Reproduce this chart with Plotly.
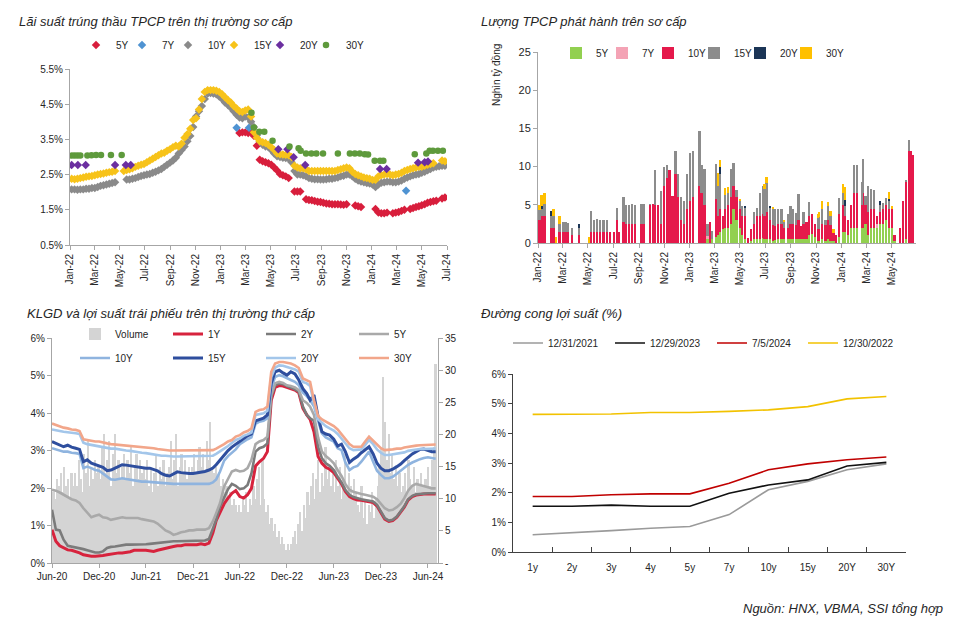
import plotly.graph_objects as go
import pandas as pd

W, H = 960, 641
FONT = "Liberation Sans, Arial, sans-serif"

# ---------------- Panel 1: primary auction yields (weekly, %) ----------------
AUCTION_WEEK_START = "2022-01-05"
AUC_10Y = [2.08, 2.08, 2.07, 2.08, 2.08, 2.10, 2.10, 2.12, 2.12, 2.15, 2.18, 2.20, 2.22, 2.24, 2.26, 2.28,
           None, None, None,
           2.36, 2.36, 2.38, 2.40, 2.43, 2.46, 2.48, 2.50, 2.52, 2.55, 2.58, 2.62, 2.66, 2.72, 2.78, 2.84, 2.90, 2.98, 3.10, 3.20, 3.30,
           3.45, 3.60, 3.85, 4.15, 4.30, 4.45, 4.65, 4.80, 4.82, 4.80, 4.78, 4.72, 4.65, 4.55, 4.48, 4.40, 4.30, 4.20, 4.12, 4.10,
           4.15, 4.12, 4.00, 3.85, 3.62, 3.45, 3.35, 3.30, 3.28, 3.20, 3.10, 3.02, 3.00, 2.98, 2.97, 2.95, 2.85, 2.60, 2.50, 2.50,
           2.48, 2.45, 2.40, 2.38, 2.37, 2.37, 2.36, 2.36, 2.37, 2.38, 2.38, 2.40, 2.42, 2.45, 2.47, 2.50, 2.50, 2.45, 2.38, 2.33,
           2.30, 2.28, 2.26, 2.25, 2.22, 2.15, 2.22, 2.27, 2.28, 2.30, 2.30, 2.28, 2.28, 2.30, 2.33, 2.38, 2.42, 2.45, 2.48, 2.50,
           2.52, 2.55, 2.58, 2.62, 2.66, 2.70, 2.72, 2.74, 2.75, 2.75, None]
AUC_15Y = [2.38, 2.37, 2.38, 2.40, 2.42, 2.44, 2.45, 2.46, 2.48, 2.50, 2.52, 2.53, 2.55, 2.57, 2.58, 2.60,
           None, None,
           2.60, 2.63, 2.65, 2.68, 2.72, 2.75, 2.78, 2.80, 2.85, 2.90, 2.95, 3.00, 3.05, 3.10, 3.12, 3.18, 3.22, 3.28, 3.32, 3.30, 3.38, 3.55,
           3.65, 3.80, 4.05, 4.10, 4.35, 4.65, 4.85, 4.90, 4.90, 4.90, 4.88, 4.85, 4.78, 4.70, 4.62, 4.55, 4.45, 4.38, 4.30, 4.28,
           4.32, 4.35, 4.15, 3.70, 3.55, 3.45, 3.42, 3.40, 3.35, 3.28, 3.20, 3.10, 3.08, 3.07, 3.06, 3.05, 3.00, 2.75, 2.70, 2.68,
           2.68, 2.65, 2.60, 2.60, 2.60, 2.60, 2.60, 2.60, 2.60, 2.60, 2.60, 2.60, 2.63, 2.65, 2.68, 2.70, 2.68, 2.58, 2.52, 2.48,
           2.45, 2.42, 2.40, 2.38, 2.35, 2.35, 2.45, 2.48, 2.50, 2.52, 2.50, 2.48, 2.50, 2.52, 2.55, 2.60, 2.63, 2.66, 2.68, 2.70,
           2.72, 2.72, 2.75, 2.78, 2.80, 2.82, None, None, 2.90, 2.88, None]
AUC_5Y = ([None] * 58 +
          [3.68, 3.70, 3.70, 3.68, 3.70, 3.60, 3.32, 2.92, 2.88, 2.85, 2.82, 2.78, 2.70, 2.62, 2.52, 2.48, 2.45, 2.40, None, 2.02, 2.02, 2.02,
           None, 1.80, 1.78, 1.77, 1.75, 1.73, 1.72, 1.70, 1.68, 1.67, 1.66, 1.66, 1.66, 1.65, 1.64, 1.66, None, None, 1.62, 1.60,
           1.58, None, None, None, None, 1.52, 1.42, 1.40, 1.40, 1.42, None, 1.40, 1.42, 1.44, 1.47, 1.50, None, 1.52, 1.55, 1.58,
           1.60, 1.63, 1.66, 1.70, 1.72, 1.74, 1.76, None, 1.82, 1.85, None])
AUC_7Y_DATES = ["2023-02-08", "2023-03-10", "2024-03-24"]
AUC_7Y = [3.83, 3.83, 2.04]
AUC_20Y_DATES = ["2022-01-05", "2022-01-20", "2022-02-08", "2022-04-20", "2022-05-16", "2022-05-28",
                 "2023-05-20", "2023-06-11", "2023-06-26", "2023-07-24", "2024-01-21", "2024-02-06",
                 "2024-04-22", "2024-05-08", "2024-05-16"]
AUC_20Y = [2.77, 2.77, 2.77, 2.77, 2.77, 2.77, 3.22, 3.22, 2.99, 2.77, 2.66, 2.66, 2.84, 2.85, 2.87]
AUC_30Y_DATES = ["2022-01-05", "2022-01-12", "2022-01-19", "2022-01-26", "2022-02-12", "2022-02-22", "2022-03-05",
                 "2022-03-17", "2022-04-10", "2022-05-06", "2023-03-16", "2023-03-22", "2023-04-04", "2023-04-16",
                 "2023-05-06", "2023-06-16", "2023-07-08", "2023-07-13", "2023-07-26", "2023-08-08", "2023-08-20",
                 "2023-09-05", "2023-10-11", "2023-11-09", "2023-11-21", "2023-12-03", "2023-12-15", "2023-12-23",
                 "2024-01-08", "2024-01-21", "2024-01-29", "2024-04-14", "2024-05-12", "2024-05-20", "2024-05-28",
                 "2024-06-09", "2024-06-21"]
AUC_30Y = [3.04, 3.04, 3.04, 3.04, 3.04, 3.05, 3.06, 3.06, 3.06, 3.06, 4.26, 3.84, 3.72, 3.72,
           3.46, 3.30, 3.25, 3.18, 3.10, 3.10, 3.10, 3.10, 3.10, 3.10, 3.10, 3.10, 3.08, 3.07,
           2.89, 2.89, 2.89, 3.08, 3.10, 3.18, 3.18, 3.18, 3.18]

# ---------------- Panel 2: primary issuance volume (trillion VND) ----------------
ISSUE_DATES = ["2022-01-05", "2022-01-10", "2022-01-17", "2022-02-02", "2022-02-08", "2022-02-14", "2022-02-22", "2022-03-02", "2022-03-09", "2022-03-15",
               "2022-03-25", "2022-04-11", "2022-05-05", "2022-05-09", "2022-05-17", "2022-05-23", "2022-05-30", "2022-06-06", "2022-06-10", "2022-06-17",
               "2022-06-24", "2022-07-04", "2022-07-11", "2022-07-15", "2022-07-26", "2022-08-01", "2022-08-08", "2022-08-15", "2022-08-22", "2022-09-07",
               "2022-09-12", "2022-09-28", "2022-10-05", "2022-10-10", "2022-10-17", "2022-10-25", "2022-10-31", "2022-11-07", "2022-11-14", "2022-11-21",
               "2022-11-28", "2022-12-05", "2022-12-12", "2022-12-19", "2022-12-26", "2023-01-03", "2023-01-09", "2023-01-25", "2023-01-30", "2023-02-06",
               "2023-02-13", "2023-02-20", "2023-02-24", "2023-03-06", "2023-03-10", "2023-03-15", "2023-03-22", "2023-03-27", "2023-04-03", "2023-04-10",
               "2023-04-17", "2023-04-24", "2023-05-02", "2023-05-08", "2023-05-15", "2023-05-22", "2023-05-29", "2023-06-05", "2023-06-12", "2023-06-19",
               "2023-06-26", "2023-06-30", "2023-07-05", "2023-07-14", "2023-07-20", "2023-07-26", "2023-08-02", "2023-08-10", "2023-08-17", "2023-08-25",
               "2023-09-01", "2023-09-07", "2023-09-14", "2023-09-20", "2023-09-25", "2023-10-02", "2023-10-09", "2023-10-16", "2023-10-23", "2023-10-30",
               "2023-11-06", "2023-11-09", "2023-11-16", "2023-11-24", "2023-11-30", "2023-12-06", "2023-12-13", "2023-12-20", "2023-12-27", "2024-01-05",
               "2024-01-10", "2024-01-17", "2024-01-24", "2024-01-31", "2024-02-07", "2024-02-19", "2024-02-23", "2024-02-28", "2024-03-06", "2024-03-13",
               "2024-03-20", "2024-03-27", "2024-04-03", "2024-04-10", "2024-04-17", "2024-04-24", "2024-05-02", "2024-05-08", "2024-05-22", "2024-05-29",
               "2024-06-05", "2024-06-12", "2024-06-17", "2024-06-21"]
ISS_5Y = [0, 0, 0, 0, 0, 0, 0, 0, 0, 0,
          0, 0, 0, 0, 0, 0, 0, 0, 0, 0,
          0, 0, 0, 0, 0, 0, 0, 0, 0, 0,
          0, 0, 0, 0, 0, 0, 0, 0, 0, 0,
          0, 0, 0, 0, 0, 0, 0, 0, 0, 0,
          0.5, 0, 0.5, 0.8, 1.0, 1.5, 1.8, 2.0, 2.0, 2.5,
          4.5, 3.0, 2.0, 1.0, 0.5, 0, 0.3, 0.5, 0.5, 0.5,
          0.6, 0.5, 0.5, 0.5, 0.3, 0.4, 0.5, 0.5, 0.5, 0.5,
          0.5, 0.5, 0.5, 0.5, 0.5, 0.5, 0.5, 1.0, 1.2, 0.8,
          0.3, 0.3, 0.5, 0.3, 0.5, 0.3, 0.3, 0, 0.8, 1.5,
          1.5, 1.0, 2.0, 2.0, 2.0, 2.0, 2.0, 2.5, 1.0, 2.0,
          2.0, 2.0, 2.5, 2.5, 3.0, 2.0, 2.0, 0.3, 0, 0,
          0.5, 0, 0, 0]
ISS_7Y = [0, 0, 0, 0, 0, 0, 0, 0, 0, 0,
          0, 0, 0, 0, 0, 0, 0, 0, 0, 0,
          0, 0, 0, 0, 0, 0, 0, 0, 0, 0,
          0, 0, 0, 0, 0, 0, 0, 0, 0, 0,
          0, 0, 0, 0, 0, 0, 0, 0, 0, 0,
          0.4, 0, 0, 0, 0, 0, 0, 0, 0, 0,
          0, 0, 0, 0, 0, 0, 0, 0, 0, 0,
          0, 0, 0, 0, 0, 0, 0, 0, 0, 0,
          0, 0, 0, 0, 0, 0, 0, 0, 0, 0,
          0, 0, 0, 0, 0, 0, 0, 0, 0, 0,
          0, 0, 0, 0, 0, 0, 0, 0, 0, 0,
          0, 0.5, 0, 0, 0, 0, 0, 0, 0, 0,
          0, 0, 0, 0]
ISS_10Y = [3.0, 3.5, 3.5, 2.0, 2.0, 0, 1.5, 1.5, 1.5, 1.5,
           1.0, 1.0, 0, 1.5, 1.5, 1.5, 1.5, 1.5, 1.5, 1.5,
           1.5, 1.5, 3.0, 1.5, 2.8, 2.5, 2.5, 2.5, 2.5, 2.5,
           2.5, 5.0, 5.1, 5.0, 5.0, 2.5, 7.5, 8.5, 9.5, 6.2,
           9.0, 6.0, 3.0, 2.5, 4.5, 5.5, 6.0, 7.5, 6.5, 5.0,
           0, 2.8, 0, 5.0, 2.5, 3.0, 1.7, 2.5, 3.0, 3.5,
           3.0, 3.0, 2.5, 2.5, 3.0, 0.6, 1.5, 2.0, 3.0, 3.0,
           3.2, 3.0, 3.5, 2.5, 2.0, 1.8, 2.0, 2.0, 1.5, 1.5,
           2.0, 2.0, 1.8, 2.5, 1.7, 2.0, 2.2, 2.5, 2.6, 1.7,
           1.5, 1.5, 2.0, 2.0, 2.5, 2.0, 1.0, 1.0, 3.0, 3.5,
           2.0, 2.0, 3.0, 4.5, 4.5, 3.0, 4.5, 2.5, 3.0, 2.5,
           2.5, 1.0, 1.5, 2.0, 2.0, 2.5, 2.5, 0.7, 2.0, 5.5,
           7.5, 12.0, 12.0, 11.5]
ISS_15Y = [1.3, 1.0, 1.6, 1.5, 1.5, 0, 1.0, 1.3, 1.3, 1.1,
           1.0, 1.0, 0, 2.7, 1.5, 1.7, 1.5, 1.5, 1.5, 1.5,
           0, 0, 1.6, 0, 3.2, 2.5, 2.5, 2.6, 2.5, 2.6,
           2.6, 0.1, 0, 4.5, 0, 4.3, 2.5, 1.7, 0, 0,
           3.0, 3.0, 3.0, 3.0, 4.5, 6.3, 6.0, 7.1, 3.7, 4.7,
           1.6, 0, 1.1, 4.6, 3.9, 4.5, 0, 1.8, 1.5, 3.7,
           3.0, 1.0, 1.0, 1.3, 1.1, 0, 0, 1.5, 1.1, 3.0,
           3.6, 3.6, 3.8, 1.6, 2.2, 2.3, 2.0, 2.0, 0.7, 1.8,
           2.4, 1.9, 1.6, 3.4, 0, 1.5, 0, 1.9, 0, 0,
           1.5, 1.6, 2.0, 0.7, 1.8, 1.3, 0, 0, 2.1, 1.5,
           1.3, 0, 0, 3.7, 3.7, 3.0, 4.5, 1.2, 3.4, 2.6,
           2.5, 0, 1.0, 0.7, 0.9, 1.0, 0, 0, 0, 0,
           0.3, 1.5, 0, 0]
ISS_20Y = [0, 0.3, 0, 0.7, 0, 0, 0, 0, 0, 0,
           0, 0.5, 0, 0, 0, 0, 0, 0, 0, 0,
           0, 0, 0, 0, 0, 0, 0, 0, 0, 0,
           0, 0, 0, 0, 0, 0, 0, 0, 0, 0,
           0, 0, 0, 0, 0, 0, 0, 0, 0, 0,
           0, 0, 0, 0, 0, 1.0, 0, 0, 0, 0,
           0, 0, 0, 0, 0.2, 0, 0, 0, 0, 0,
           0, 0, 0, 0.2, 0, 0, 0, 0, 0, 0,
           0, 0, 0, 0, 0, 0, 0, 0, 0, 0,
           0, 0, 0, 0, 0, 0, 0, 0, 0, 0,
           0.8, 0, 0, 0, 0, 0, 0, 0, 0, 0,
           0, 0, 0.5, 0, 0, 0.3, 0, 0, 0, 0,
           0, 0, 0, 0]
ISS_30Y = [0.7, 1.5, 1.5, 0, 1.0, 0.8, 1.0, 0, 0, 0,
           0, 0, 0.8, 0, 0, 0, 0, 0, 0, 0,
           0, 0, 0, 0, 0, 0, 0, 0, 0, 0,
           0, 0, 0, 0, 0, 0, 0, 0, 0, 0,
           0, 0, 0, 0, 0, 0, 0, 0, 0, 0,
           0, 0, 0, 0, 1.8, 0.8, 0, 0.9, 0.8, 0,
           0, 0, 0.3, 0, 0, 0, 0, 0, 0, 0,
           0, 0.6, 0.8, 0, 0.2, 0, 0, 0, 0.3, 0,
           0, 0, 0, 0, 0, 0, 0, 0, 0, 0,
           0.5, 0.6, 1.0, 0, 0.6, 0.6, 0.5, 0, 0, 1.2,
           1.7, 0, 0, 0, 0, 0, 0, 0, 0, 0,
           0, 0, 0, 0, 0, 0.9, 0.3, 0, 0, 0,
           0, 0, 0, 0]

# ---------------- Panel 3: secondary market yields (semi-monthly, %) and weekly volume ----------------
SEC_START = (2020, 6)
SEC_1Y = [0.89, 0.58, 0.46, 0.40, 0.35, 0.34, 0.31, 0.27, 0.22, 0.20,
          0.18, 0.18, 0.18, 0.20, 0.22, 0.24, 0.25, 0.27, 0.27, 0.28,
          0.30, 0.34, 0.35, 0.34, 0.34, 0.32, 0.31, 0.34, 0.37, 0.40,
          0.43, 0.44, 0.46, 0.46, 0.49, 0.49, 0.48, 0.49, 0.51, 0.49,
          0.53, 0.80, 1.13, 1.37, 1.58, 1.73, 1.86, 1.93, 1.77, 1.73,
          1.82, 1.99, 2.59, 2.70, 2.79, 2.97, 4.34, 4.68, 4.73, 4.72,
          4.68, 4.65, 4.61, 4.54, 4.12, 3.95, 3.83, 3.50, 2.84, 2.66,
          2.55, 2.50, 2.41, 2.26, 2.11, 1.91, 1.77, 1.72, 1.68, 1.67,
          1.65, 1.63, 1.61, 1.52, 1.35, 1.17, 1.11, 1.13, 1.22, 1.35,
          1.49, 1.68, 1.77, 1.81, 1.83, 1.84, 1.84, 1.84, 1.84]
SEC_2Y = [1.42, 0.89, 0.87, 0.62, 0.46, 0.44, 0.43, 0.40, 0.37, 0.34,
          0.31, 0.28, 0.28, 0.31, 0.40, 0.43, 0.44, 0.46, 0.46, 0.49,
          0.49, 0.49, 0.48, 0.49, 0.50, 0.51, 0.52, 0.53, 0.55, 0.57,
          0.58, 0.58, 0.58, 0.58, 0.58, 0.58, 0.58, 0.58, 0.58, 0.60,
          0.64, 0.89, 1.15, 1.51, 1.77, 1.97, 2.11, 2.06, 1.97, 1.99,
          2.08, 2.39, 2.97, 3.06, 3.10, 3.19, 4.43, 4.74, 4.79, 4.77,
          4.72, 4.68, 4.63, 4.57, 4.17, 3.95, 3.86, 3.79, 3.10, 2.79,
          2.66, 2.59, 2.48, 2.30, 2.15, 1.95, 1.82, 1.76, 1.72, 1.70,
          1.68, 1.67, 1.64, 1.55, 1.37, 1.20, 1.13, 1.15, 1.24, 1.37,
          1.51, 1.70, 1.79, 1.83, 1.84, 1.86, 1.86, 1.86, 1.86]
SEC_5Y = [1.95, 1.93, 1.88, 1.82, 1.76, 1.70, 1.67, 1.60, 1.46, 1.33,
          1.22, 1.26, 1.29, 1.22, 1.20, 1.15, 1.17, 1.20, 1.22, 1.20,
          1.20, 1.22, 1.20, 1.17, 1.15, 1.13, 1.11, 1.05, 0.96, 0.87,
          0.82, 0.75, 0.78, 0.82, 0.84, 0.87, 0.87, 0.89, 0.89, 0.89,
          0.93, 1.11, 1.33, 1.60, 2.04, 2.26, 2.44, 2.48, 2.44, 2.46,
          2.53, 2.75, 3.17, 3.24, 3.28, 3.37, 4.48, 4.79, 4.83, 4.80,
          4.74, 4.72, 4.68, 4.61, 4.34, 4.27, 4.17, 3.95, 3.35, 2.97,
          2.85, 2.77, 2.66, 2.48, 2.32, 2.11, 1.95, 1.90, 1.86, 1.84,
          1.82, 1.79, 1.77, 1.70, 1.58, 1.46, 1.40, 1.42, 1.49, 1.58,
          1.73, 1.93, 2.06, 2.11, 2.08, 2.06, 2.02, 1.99, 1.99]
SEC_10Y = [3.06, 3.03, 3.01, 2.97, 2.97, 2.94, 2.93, 2.91, 2.53, 2.57,
           2.53, 2.48, 2.46, 2.39, 2.32, 2.23, 2.22, 2.25, 2.26, 2.24,
           2.22, 2.20, 2.18, 2.17, 2.17, 2.16, 2.15, 2.15, 2.13, 2.13,
           2.12, 2.11, 2.11, 2.11, 2.11, 2.11, 2.11, 2.11, 2.11, 2.11,
           2.11, 2.15, 2.23, 2.44, 2.73, 2.85, 2.93, 3.03, 3.17, 3.24,
           3.30, 3.35, 3.71, 3.77, 3.79, 3.86, 4.68, 4.96, 5.01, 4.98,
           4.92, 4.88, 4.83, 4.74, 4.54, 4.45, 4.34, 4.18, 3.79, 3.46,
           3.35, 3.30, 3.24, 3.06, 3.01, 2.68, 2.48, 2.55, 2.59, 2.70,
           2.85, 2.97, 2.70, 2.46, 2.35, 2.26, 2.26, 2.30, 2.38, 2.46,
           2.55, 2.62, 2.68, 2.73, 2.77, 2.80, 2.82, 2.80, 2.78]
SEC_15Y = [3.24, 3.19, 3.15, 3.10, 3.14, 3.09, 3.06, 3.03, 2.70, 2.75,
           2.66, 2.62, 2.59, 2.55, 2.46, 2.48, 2.53, 2.59, 2.62, 2.61,
           2.59, 2.57, 2.57, 2.54, 2.53, 2.53, 2.50, 2.46, 2.38, 2.34,
           2.32, 2.38, 2.43, 2.41, 2.39, 2.39, 2.39, 2.40, 2.41, 2.44,
           2.48, 2.53, 2.62, 2.75, 2.88, 3.00, 3.09, 3.17, 3.26, 3.32,
           3.39, 3.44, 3.79, 3.83, 3.86, 3.95, 4.79, 5.10, 5.14, 5.07,
           5.01, 5.10, 5.04, 4.88, 4.65, 4.52, 4.34, 4.48, 3.90, 3.50,
           3.44, 3.41, 3.30, 3.12, 3.17, 2.97, 2.68, 2.77, 2.84, 2.94,
           3.03, 3.10, 2.91, 2.66, 2.53, 2.46, 2.46, 2.50, 2.57, 2.64,
           2.73, 2.82, 2.91, 2.97, 3.03, 3.04, 3.01, 2.97, 2.97]
SEC_20Y = [3.56, 3.55, 3.52, 3.50, 3.49, 3.48, 3.46, 3.44, 3.21, 3.17,
           3.15, 3.12, 3.10, 3.09, 3.07, 3.05, 3.05, 3.03, 3.01, 3.00,
           2.99, 2.97, 2.97, 2.94, 2.93, 2.91, 2.91, 2.88, 2.86, 2.86,
           2.84, 2.84, 2.84, 2.84, 2.84, 2.84, 2.84, 2.84, 2.84, 2.84,
           2.84, 2.86, 2.91, 2.97, 3.05, 3.12, 3.19, 3.28, 3.32, 3.39,
           3.43, 3.48, 3.95, 3.97, 3.99, 4.06, 4.96, 5.21, 5.27, 5.26,
           5.23, 5.20, 5.16, 5.10, 4.83, 4.79, 4.72, 4.26, 3.83, 3.74,
           3.65, 3.59, 3.53, 3.44, 3.32, 3.17, 3.06, 3.01, 3.01, 3.03,
           3.15, 3.28, 3.17, 3.03, 2.94, 2.88, 2.88, 2.90, 2.91, 2.93,
           2.95, 2.99, 3.01, 3.02, 3.04, 3.04, 3.05, 3.05, 3.05]
SEC_30Y = [3.72, 3.68, 3.63, 3.61, 3.59, 3.56, 3.55, 3.52, 3.30, 3.28,
           3.26, 3.24, 3.24, 3.21, 3.19, 3.17, 3.16, 3.15, 3.14, 3.13,
           3.12, 3.12, 3.10, 3.10, 3.09, 3.08, 3.06, 3.04, 3.02, 3.01,
           3.00, 3.00, 3.00, 3.00, 3.00, 3.00, 3.00, 3.00, 3.00, 3.00,
           3.00, 3.01, 3.05, 3.10, 3.17, 3.24, 3.28, 3.37, 3.41, 3.48,
           3.52, 3.59, 4.03, 4.08, 4.10, 4.17, 5.10, 5.32, 5.36, 5.36,
           5.35, 5.32, 5.27, 5.20, 4.92, 4.88, 4.83, 4.34, 3.92, 3.83,
           3.77, 3.71, 3.65, 3.56, 3.44, 3.30, 3.17, 3.10, 3.10, 3.10,
           3.24, 3.37, 3.26, 3.15, 3.06, 3.01, 3.01, 3.03, 3.05, 3.05,
           3.08, 3.10, 3.12, 3.13, 3.14, 3.14, 3.15, 3.16, 3.16]
VOL_WEEK_START = "2020-06-01"
SEC_VOLUME = [9, 11, 10, 13, 12, 14, 11, 15, 12, 13, 10, 14, 12,
              14, 12, 16, 13, 11, 17, 14, 19, 12, 15, 13, 16, 14,
              15, 13, 18, 20, 14, 16, 19, 12, 17, 20, 14, 16, 13,
              15, 17, 13, 16, 14, 18, 12, 15, 17, 13, 16, 14, 15,
              13, 16, 12, 15, 11, 14, 17, 12, 15, 13, 16, 12, 14,
              15, 19, 13, 16, 20, 12, 15, 17, 14, 16, 13, 15, 14,
              15, 17, 14, 16, 18, 15, 17, 14, 19, 16, 22, 15, 14,
              15, 13, 14, 12, 13, 11, 12, 10, 11, 9, 10, 9, 8,
              9, 8, 10, 9, 11, 8, 10, 9, 12, 10, 13, 15, 9,
              16, 10, 8, 9, 6, 7, 5, 6, 4, 5, 3, 4, 3,
              2, 3, 2, 3, 4, 5, 3, 6, 8, 5, 9, 7, 11,
              9, 12, 14, 10, 13, 16, 11, 14, 12, 18, 13, 15, 12,
              14, 11, 16, 12, 15, 10, 13, 17, 11, 14, 12, 10, 13,
              11, 9, 8, 12, 7, 10, 6, 9, 8, 11, 7, 10, 12,
              15, 18, 29, 22, 16, 20, 14, 17, 13, 15, 12, 14, 11,
              12, 14, 11, 16, 13, 12, 15, 11, 13, 12, 14, 12, 13,
              13, 15, 12, 16, 18, 31]

# ---------------- Panel 4: yield curves (%) ----------------
TENORS = ["1y", "2y", "3y", "4y", "5y", "7y", "10y", "15y", "20Y", "30Y"]
CURVE_20211231 = [0.58, 0.64, 0.72, 0.80, 0.86, 1.26, 2.10, 2.38, 2.77, 2.97]
CURVE_20231229 = [1.54, 1.54, 1.58, 1.54, 1.54, 1.98, 2.26, 2.43, 2.90, 3.02]
CURVE_20240705 = [1.87, 1.87, 1.93, 1.96, 1.96, 2.32, 2.77, 2.97, 3.11, 3.20]
CURVE_20221230 = [4.64, 4.65, 4.65, 4.70, 4.70, 4.74, 4.79, 4.90, 5.16, 5.24]

for name, col in [("ISS_5Y", ISS_5Y), ("ISS_7Y", ISS_7Y), ("ISS_10Y", ISS_10Y), ("ISS_15Y", ISS_15Y),
                  ("ISS_20Y", ISS_20Y), ("ISS_30Y", ISS_30Y)]:
    assert len(col) == len(ISSUE_DATES), (name, len(col), len(ISSUE_DATES))
for name, col in [("SEC_1Y", SEC_1Y), ("SEC_2Y", SEC_2Y), ("SEC_5Y", SEC_5Y), ("SEC_10Y", SEC_10Y),
                  ("SEC_15Y", SEC_15Y), ("SEC_20Y", SEC_20Y), ("SEC_30Y", SEC_30Y)]:
    assert len(col) == 99, (name, len(col))
assert len(AUC_10Y) == len(AUC_15Y) == len(AUC_5Y), (len(AUC_10Y), len(AUC_15Y), len(AUC_5Y))

# ---------------- derived x positions ----------------
auc_weeks = pd.date_range(AUCTION_WEEK_START, periods=len(AUC_10Y), freq="7D")
sec_dates = []
y0, m0 = SEC_START
for k in range(len(SEC_1Y)):
    mm = m0 - 1 + k // 2
    sec_dates.append(f"{y0 + mm // 12}-{mm % 12 + 1:02d}-{'01' if k % 2 == 0 else '16'}")
vol_weeks = pd.date_range(VOL_WEEK_START, periods=len(SEC_VOLUME), freq="7D")


def fx(px):
    return px / W


def fy(py):
    return 1 - py / H


AX = "#a6a6a6"
TXT = "#262626"
DAY_MS = 86400000

fig = go.Figure()

# Panel 1 traces
p1 = [("5Y", AUC_5Y, auc_weeks, "#d81e3c", "diamond"),
      ("7Y", AUC_7Y, AUC_7Y_DATES, "#4f93d2", "diamond"),
      ("10Y", AUC_10Y, auc_weeks, "#8a8a8a", "diamond"),
      ("15Y", AUC_15Y, auc_weeks, "#f7c31a", "diamond"),
      ("20Y", AUC_20Y, AUC_20Y_DATES, "#6b2fa0", "diamond"),
      ("30Y", AUC_30Y, AUC_30Y_DATES, "#5e9a3c", "circle")]
for name, vals, xs, col, sym in p1:
    fig.add_trace(go.Scatter(x=list(xs), y=vals, name=name, mode="markers",
                             marker=dict(color=col, size=6.5, symbol=sym),
                             xaxis="x", yaxis="y", legend="legend",
                             legendwidth=22 if name == "30Y" else 1))

# Panel 2 traces
p2 = [("5Y", ISS_5Y, "#92d050"), ("7Y", ISS_7Y, "#f4a3b5"), ("10Y", ISS_10Y, "#e5194b"),
      ("15Y", ISS_15Y, "#8c8c8c"), ("20Y", ISS_20Y, "#1b3556"), ("30Y", ISS_30Y, "#ffc000")]
for name, vals, col in p2:
    fig.add_trace(go.Bar(x=ISSUE_DATES, y=vals, name=name, marker=dict(color=col, line=dict(width=0)),
                         width=4.2 * DAY_MS, xaxis="x2", yaxis="y2", legend="legend2",
                         legendwidth=22 if name == "30Y" else 1))

# Panel 3 traces (volume on the base axis so it is drawn beneath the yield lines)
fig.add_trace(go.Bar(x=list(vol_weeks), y=SEC_VOLUME, name="Volume",
                     marker=dict(color="#d4d4d4", line=dict(width=0)), width=6.6 * DAY_MS,
                     xaxis="x3", yaxis="y3", legend="legend3"))
p3 = [("1Y", SEC_1Y, "#d7233d", 3.0, "legend3"), ("2Y", SEC_2Y, "#7b7b7b", 2.6, "legend3"),
      ("5Y", SEC_5Y, "#a9a9a9", 2.6, "legend3"), ("10Y", SEC_10Y, "#8fb4df", 2.6, "legend4"),
      ("15Y", SEC_15Y, "#2e4e9e", 3.0, "legend4"), ("20Y", SEC_20Y, "#a3c6ea", 2.6, "legend4"),
      ("30Y", SEC_30Y, "#f2a68a", 2.6, "legend4")]
for name, vals, col, lw, lg in p3:
    fig.add_trace(go.Scatter(x=sec_dates, y=vals, name=name, mode="lines",
                             line=dict(color=col, width=lw), xaxis="x3", yaxis="y4", legend=lg))

# Panel 4 traces
p4 = [("12/31/2021", CURVE_20211231, "#9a9a9a", 57), ("12/29/2023", CURVE_20231229, "#111111", 57),
      ("7/5/2024", CURVE_20240705, "#c00000", 46), ("12/30/2022", CURVE_20221230, "#f2c200", 57)]
for name, vals, col, lw in p4:
    fig.add_trace(go.Scatter(x=TENORS, y=vals, name=name, mode="lines",
                             line=dict(color=col, width=1.6), xaxis="x4", yaxis="y5", legend="legend5",
                             legendwidth=lw))

base_ax = dict(showgrid=False, zeroline=False, showline=True, linecolor=AX, linewidth=1,
               ticks="outside", ticklen=4, tickcolor=AX, tickfont=dict(size=10, color=TXT),
               automargin=False)

pct = lambda vals, fmt: [fmt.format(v) for v in vals]

fig.update_layout(
    template="none",
    width=W, height=H, margin=dict(l=0, r=0, t=0, b=0, pad=0, autoexpand=False),
    paper_bgcolor="white", plot_bgcolor="white",
    font=dict(family=FONT, size=10, color=TXT),
    barmode="stack", bargap=0,
    xaxis=dict(base_ax, domain=[fx(70), fx(447)], anchor="y", type="date",
               range=["2022-01-01", "2024-07-01"], tick0="2022-01-01", dtick="M2",
               tickformat="%b-%y", tickangle=-90),
    yaxis=dict(base_ax, domain=[fy(245), fy(69)], anchor="x", range=[0.5, 5.5],
               tickvals=[0.5, 1.5, 2.5, 3.5, 4.5, 5.5],
               ticktext=pct([0.5, 1.5, 2.5, 3.5, 4.5, 5.5], "{:.1f}%")),
    xaxis2=dict(base_ax, domain=[fx(538), fx(916)], anchor="y2", type="date",
                range=["2022-01-01", "2024-06-28"], tick0="2022-01-01", dtick="M2",
                tickformat="%b-%y", tickangle=-90),
    yaxis2=dict(base_ax, domain=[fy(243), fy(52)], anchor="x2", range=[0, 25], dtick=5,
                tickfont=dict(size=11, color=TXT)),
    xaxis3=dict(base_ax, domain=[fx(52), fx(438)], anchor="y3", type="date",
                range=["2020-06-01", "2024-07-10"], tick0="2020-06-01", dtick="M6",
                tickformat="%b-%y"),
    yaxis3=dict(base_ax, domain=[fy(563), fy(338)], anchor="x3", side="right", range=[0, 35],
                tickvals=[0, 5, 10, 15, 20, 25, 30, 35],
                ticktext=["-", "5", "10", "15", "20", "25", "30", "35"]),
    yaxis4=dict(base_ax, overlaying="y3", anchor="x3", side="left", range=[0, 6],
                tickvals=[0, 1, 2, 3, 4, 5, 6], ticktext=pct([0, 1, 2, 3, 4, 5, 6], "{:d}%")),
    xaxis4=dict(base_ax, domain=[fx(513), fx(906)], anchor="y5", type="category",
                categoryorder="array", categoryarray=TENORS, range=[-0.5, 9.5],
                tickson="boundaries", ticks="inside", ticklen=5, linecolor="#404040",
                tickcolor="#404040", ticklabelstandoff=6),
    yaxis5=dict(base_ax, domain=[fy(552), fy(374)], anchor="x4", range=[0, 6],
                tickvals=[0, 1, 2, 3, 4, 5, 6], ticktext=pct([0, 1, 2, 3, 4, 5, 6], "{:d}%"),
                linecolor="#404040", tickcolor="#404040"),
)

leg = dict(orientation="h", xanchor="left", yanchor="middle", bgcolor="rgba(0,0,0,0)",
           font=dict(size=10, color=TXT), itemwidth=30, traceorder="normal", borderwidth=0)
fig.update_layout(
    showlegend=True,
    legend=dict(leg, x=fx(76), y=fy(45)),
    legend2=dict(leg, x=fx(556), y=fy(53)),
    legend3=dict(leg, x=fx(75), y=fy(334), entrywidth=48),
    legend4=dict(leg, x=fx(75), y=fy(358), entrywidth=48),
    legend5=dict(leg, x=fx(508), y=fy(343)),
)

titles = [("Lãi suất trúng thầu TPCP trên thị trường sơ cấp", 17, 21),
          ("Lượng TPCP phát hành trên sơ cấp", 479, 21),
          ("KLGD và lợi suất trái phiếu trên thị trường thứ cấp", 25, 313),
          ("Đường cong lợi suất (%)", 479, 313)]
for text, px, py in titles:
    fig.add_annotation(text=text, x=fx(px), y=fy(py), xref="paper", yref="paper",
                       xanchor="left", yanchor="middle", showarrow=False,
                       font=dict(size=13, style="italic", color=TXT))
fig.add_annotation(text="Nghìn tỷ đồng", x=fx(497), y=fy(75), xref="paper", yref="paper",
                   xanchor="center", yanchor="middle", textangle=-90, showarrow=False,
                   font=dict(size=10, color=TXT))
fig.add_annotation(text="Nguồn: HNX, VBMA, SSI tổng hợp", x=fx(945), y=fy(608), xref="paper", yref="paper",
                   xanchor="right", yanchor="middle", showarrow=False,
                   font=dict(size=13, style="italic", color=TXT))

# The page's default 8px body margin would shift the whole figure; remove it.
fig.write_html("out.html", config={"displayModeBar": False},
               post_script="document.body.style.margin='0';")
